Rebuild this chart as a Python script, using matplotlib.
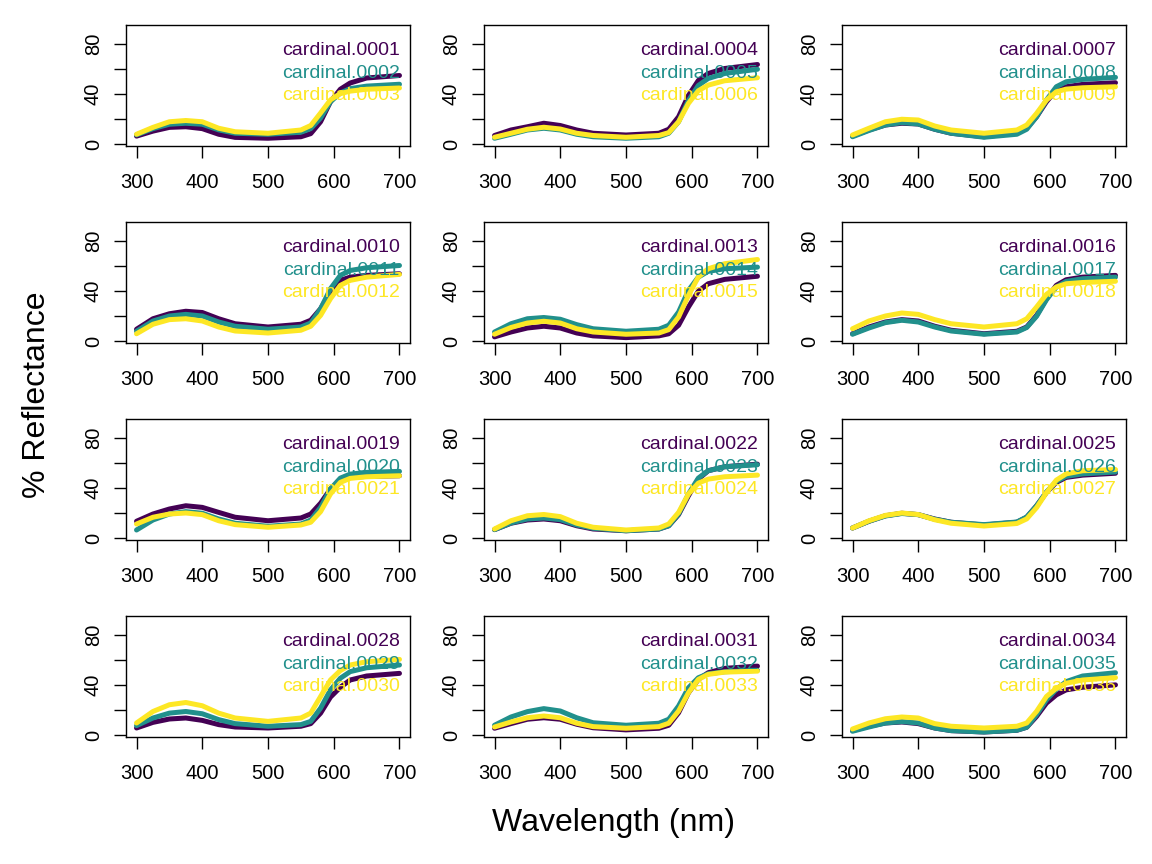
import matplotlib
matplotlib.use('Agg')
import matplotlib.pyplot as plt

wl = [300, 325, 350, 375, 400, 425, 450, 500, 550, 565, 580, 595, 610, 625, 650, 700]

# % reflectance for each specimen
card_0001 = [6.5, 10.5, 13.5, 14, 12.5, 8, 5.5, 4.8, 6, 8.5, 18, 34, 44, 49, 53, 55]
card_0002 = [7.5, 12.5, 16, 16.8, 16, 11.5, 8.8, 8, 9.6, 12.5, 21, 34, 41, 44.5, 46.5, 48]
card_0003 = [8, 13.5, 18, 19, 18, 12.8, 10, 8.8, 11.4, 15, 25, 35.5, 40.5, 42.5, 44, 45]
card_0004 = [7, 11.4, 14, 16.8, 15, 11.4, 8.8, 7.4, 8.8, 12, 22, 39, 51, 56.6, 60.6, 63.8]
card_0005 = [4.8, 8, 11.4, 12.8, 11.4, 8, 6, 4.8, 6, 8.8, 18, 35, 47, 52.6, 56.6, 60]
card_0006 = [5.6, 8.8, 12, 13.6, 12.2, 8.8, 7, 5.6, 7, 9.3, 18, 32.7, 42.8, 47.3, 50.8, 53.2]
card_0007 = [6.6, 11.4, 15.4, 16.8, 16.2, 12, 8.8, 6, 8.8, 12.8, 22, 34, 43.4, 46, 47.9, 49.2]
card_0008 = [6, 11, 15.4, 17.3, 16.2, 12, 8.8, 5.6, 8, 12, 22, 35.4, 46, 50, 51.9, 53.5]
card_0009 = [7.4, 12.8, 18, 20, 19.4, 14.6, 11.4, 8.8, 11.4, 15.4, 24.7, 35.4, 42, 44.1, 45.2, 46]
card_0010 = [9.6, 18, 22, 24, 23, 18, 14, 11.4, 13.6, 16.8, 26, 39.4, 48.7, 51.3, 52.7, 54]
card_0011 = [8, 16.2, 20.2, 21.5, 20.2, 15.4, 12, 9.6, 11.4, 14.6, 26, 42, 52.7, 56.6, 58.8, 60.6]
card_0012 = [6, 13.6, 17.3, 18, 16.2, 11.4, 8.2, 6.6, 8.8, 12, 20.7, 34, 44.7, 48.7, 51.3, 53.5]
card_0013 = [3.5, 7.4, 10.6, 12, 10.6, 6.6, 4.3, 2.9, 4.3, 6, 12.8, 27.4, 40, 46, 49.5, 52]
card_0014 = [7.4, 14, 18, 19, 17.6, 13.3, 10, 8, 9.6, 12.8, 23.4, 40.7, 51.3, 55.9, 58, 59.3]
card_0015 = [5.6, 11, 14.6, 16, 14.6, 10, 7.4, 5.6, 6.6, 9.3, 19.4, 36.7, 51.3, 58, 62, 65.4]
card_0016 = [6, 11.4, 15.4, 17.3, 16.2, 12, 8.8, 6, 8, 11.4, 20.7, 34, 44.7, 49.2, 51.3, 52.7]
card_0017 = [5.6, 10.6, 14.9, 16.8, 15.4, 11.4, 8.2, 5.6, 7.4, 11, 20, 33.2, 43.4, 47.9, 50, 51.3]
card_0018 = [10, 16.2, 20.2, 22.6, 21.5, 17.3, 14, 11.4, 14, 18, 27.4, 37.5, 43.4, 46, 47, 48]
card_0019 = [13.6, 19.4, 23.4, 26, 24.7, 20.7, 16.8, 14, 16.2, 19.4, 28, 39.4, 46.5, 48.7, 49.5, 50]
card_0020 = [6.6, 14.6, 19.4, 21.3, 20, 15.4, 12, 9.6, 11.4, 14.6, 24.7, 39.4, 48.1, 51.3, 52.7, 53.5]
card_0021 = [11.4, 16.8, 19.4, 20.2, 18.9, 14, 10.9, 8.8, 10.6, 12.8, 21.3, 35.4, 44.7, 47.9, 49.2, 50]
card_0022 = [6.9, 12, 14.6, 15.4, 14, 10, 7.4, 6, 7.4, 10, 18.9, 34, 47.3, 54, 57.2, 59.3]
card_0023 = [6.9, 12.2, 15.4, 16.2, 14.9, 10.6, 8, 6, 7.4, 10, 19.4, 35.4, 48.1, 54, 57.2, 58.8]
card_0024 = [7.4, 14, 18, 19, 17.3, 12, 8.8, 6.6, 8.2, 11.4, 20.7, 35.4, 44.1, 47.3, 49.2, 50.5]
card_0025 = [8.2, 13.6, 18, 20, 18.9, 15.4, 12.8, 10.6, 12.8, 16.8, 26, 36.7, 44.7, 48.7, 50.5, 52]
card_0026 = [8.2, 13.6, 17.8, 19.8, 18.9, 15.2, 12.8, 10.9, 13, 17, 26, 37, 45.5, 49.5, 51.5, 53]
card_0027 = [8.2, 14, 18.3, 20.2, 19, 14.8, 12, 9.8, 11.8, 15.5, 24.5, 36.5, 46.5, 51.5, 54, 55]
card_0028 = [5.8, 10.3, 13, 13.8, 11.9, 8.5, 6.6, 5.8, 7.2, 9.3, 17.7, 30.5, 38.4, 44.2, 47.4, 49.5]
card_0029 = [7.7, 13.8, 17.7, 19, 17.2, 12.5, 9.3, 7.2, 8.5, 11.1, 21.7, 36.3, 45.6, 50.9, 54, 56.2]
card_0030 = [9.8, 19, 24.4, 26.2, 23.6, 17.7, 13.8, 11.1, 13.8, 17.7, 31, 44.2, 51.7, 56.2, 58.8, 60.7]
card_0031 = [5.6, 9.3, 12.8, 14, 12.8, 8.8, 6, 4.3, 5.6, 8, 18, 34, 44.7, 50, 53.5, 55.3]
card_0032 = [8, 14.6, 18.9, 21.3, 19.4, 14, 10, 8, 9.6, 12.8, 23.4, 38, 46, 49.2, 50.8, 51.9]
card_0033 = [6.6, 10.6, 14, 15.4, 14, 9.6, 6.9, 5.6, 6.9, 9.6, 19.4, 34, 44.7, 48.7, 50.5, 51.3]
card_0034 = [3.7, 7.2, 9.8, 10.6, 9.3, 5.8, 3.7, 2.6, 4, 6.4, 15.1, 25.7, 32.3, 36.3, 38.4, 40.3]
card_0035 = [3.2, 6.6, 9.8, 10.9, 9.8, 5.8, 3.7, 2.6, 4, 6.4, 16.4, 28.3, 36.8, 42.9, 47.4, 50]
card_0036 = [5, 9.8, 13.2, 14.6, 13.8, 9.3, 7.2, 5.8, 7.2, 9.8, 19.1, 31, 37.6, 41.6, 44.2, 46.1]

spectra = [card_0001, card_0002, card_0003, card_0004, card_0005, card_0006,
           card_0007, card_0008, card_0009, card_0010, card_0011, card_0012,
           card_0013, card_0014, card_0015, card_0016, card_0017, card_0018,
           card_0019, card_0020, card_0021, card_0022, card_0023, card_0024,
           card_0025, card_0026, card_0027, card_0028, card_0029, card_0030,
           card_0031, card_0032, card_0033, card_0034, card_0035, card_0036]
names = ['cardinal.%04d' % (i + 1) for i in range(len(spectra))]

x_ticks = [300, 400, 500, 600, 700]
y_ticks = [0, 20, 40, 60, 80]
y_tick_labels = ['0', '', '40', '', '80']

colors = ['#440154', '#21908C', '#FDE725']  # viridis(3)

plt.rcParams['font.family'] = ['Liberation Sans', 'DejaVu Sans']

W, H = 1152, 864
fig = plt.figure(figsize=(W / 100, H / 100), dpi=100)

# panel boxes in pixels
col_left = [126, 484, 842]
row_top = [25, 222, 419, 616]
box_w, box_h = 284, 121

for p in range(12):
    r, c = divmod(p, 3)
    ax = fig.add_axes([col_left[c] / W, 1 - (row_top[r] + box_h) / H, box_w / W, box_h / H])

    for k in range(3):
        idx = 3 * p + k
        ax.plot(wl, spectra[idx], color=colors[k], lw=3.6, solid_capstyle='round',
                solid_joinstyle='round')
        # legend, top right, no box
        ax.text(0.964, [0.752, 0.566, 0.38][k], names[idx], color=colors[k],
                transform=ax.transAxes, ha='right', va='baseline', fontsize=14, zorder=5)

    ax.set_xlim(284, 716)
    ax.set_ylim(-1.4, 95.4)
    ax.set_xticks(x_ticks)
    ax.set_yticks(y_ticks)
    ax.set_yticklabels(y_tick_labels)
    ax.tick_params(direction='out', length=8.6, width=1.0, labelsize=14.5, colors='black')
    ax.tick_params(axis='x', pad=11)
    ax.tick_params(axis='y', pad=8)
    plt.setp(ax.get_yticklabels(), rotation=90, va='center')
    for s in ax.spines.values():
        s.set_linewidth(1.0)

fig.text(614 / W, 1 - 823 / H, 'Wavelength (nm)', ha='center', va='center', fontsize=23)
fig.text(37 / W, 1 - 395 / H, '% Reflectance', ha='center', va='center',
         rotation=90, fontsize=23)

fig.savefig('out.png', dpi=100)
